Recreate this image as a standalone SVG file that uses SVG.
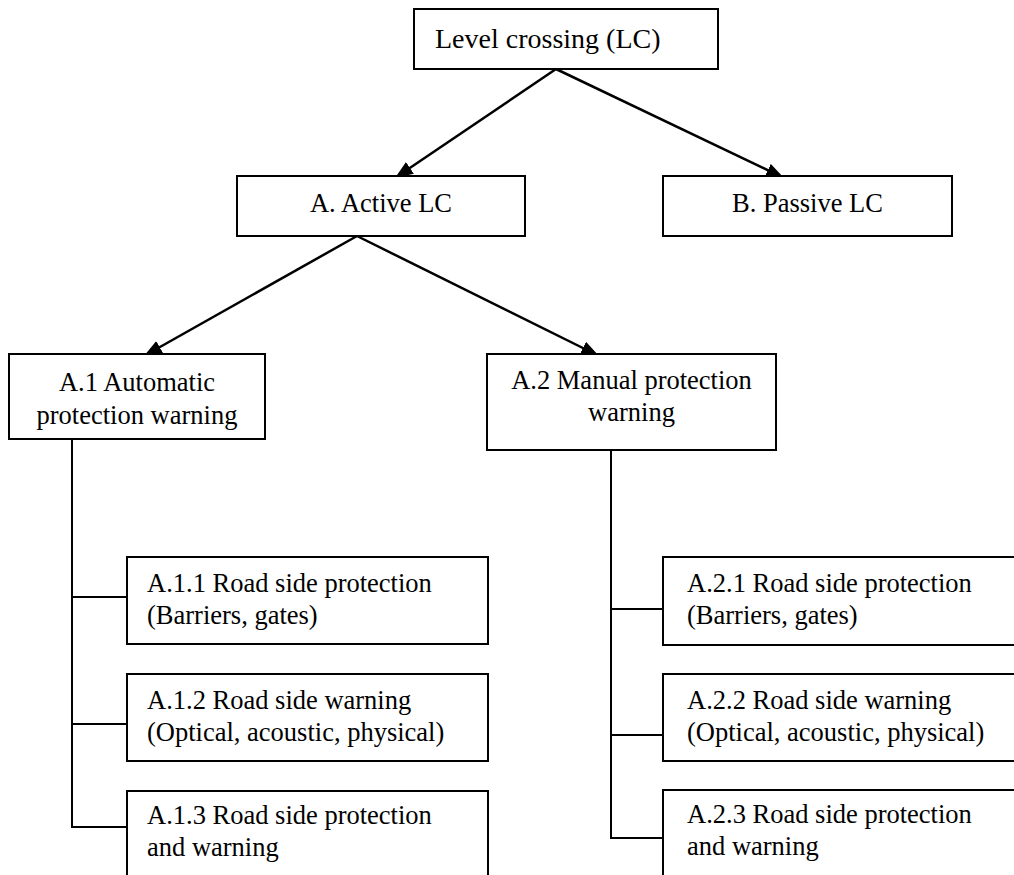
<svg xmlns="http://www.w3.org/2000/svg" width="1014" height="875" viewBox="0 0 1014 875">
  <style>
    .box { fill: #ffffff; stroke: #000000; stroke-width: 2; }
    .lbl { font-family: "Liberation Serif", "Times New Roman", serif; font-size: 26.5px; fill: #000000; }
    .top { font-size: 28px; }
    .mid { text-anchor: middle; }
    .arrow { fill: none; stroke: #000000; stroke-width: 2.5; marker-end: url(#head); }
    .tree { fill: none; stroke: #000000; stroke-width: 2; }
  </style>
  <defs>
    <marker id="head" markerUnits="userSpaceOnUse" markerWidth="20" markerHeight="16" refX="18" refY="7" orient="auto">
      <path d="M0,0 L18,7 L0,14 z" fill="#000000"/>
    </marker>
  </defs>
  <rect width="1014" height="875" fill="#ffffff"/>

  <!-- connectors: drawn first so the boxes sit on top of the arrow tips -->
  <g id="connectors">
    <line class="arrow" x1="556" y1="69" x2="395" y2="178"/>
    <line class="arrow" x1="556" y1="69" x2="784" y2="178"/>
    <line class="arrow" x1="357" y1="236" x2="144" y2="356"/>
    <line class="arrow" x1="357" y1="236" x2="599" y2="356"/>
    <!-- A.1 branch tree -->
    <polyline class="tree" points="72,439 72,827 127,827"/>
    <line class="tree" x1="72" y1="597" x2="127" y2="597"/>
    <line class="tree" x1="72" y1="724" x2="127" y2="724"/>
    <!-- A.2 branch tree -->
    <polyline class="tree" points="611,450 611,838 663,838"/>
    <line class="tree" x1="611" y1="609" x2="663" y2="609"/>
    <line class="tree" x1="611" y1="735" x2="663" y2="735"/>
  </g>

  <g id="lc">
    <rect class="box" x="414" y="9" width="304" height="60"/>
    <text class="lbl top" x="435" y="48">Level crossing (LC)</text>
  </g>

  <g id="active">
    <rect class="box" x="237" y="176" width="288" height="60"/>
    <text class="lbl mid" x="381" y="212">A. Active LC</text>
  </g>

  <g id="passive">
    <rect class="box" x="663" y="176" width="289" height="60"/>
    <text class="lbl mid" x="807.5" y="212">B. Passive LC</text>
  </g>

  <g id="a1">
    <rect class="box" x="9" y="354" width="256" height="85"/>
    <text class="lbl mid" x="137" y="391">A.1 Automatic</text>
    <text class="lbl mid" x="137" y="424">protection warning</text>
  </g>

  <g id="a2">
    <rect class="box" x="487" y="354" width="289" height="96"/>
    <text class="lbl mid" x="631.5" y="389">A.2 Manual protection</text>
    <text class="lbl mid" x="631.5" y="421">warning</text>
  </g>

  <g id="a11">
    <rect class="box" x="127" y="557" width="361" height="87"/>
    <text class="lbl" x="147" y="592">A.1.1 Road side protection</text>
    <text class="lbl" x="147" y="624">(Barriers, gates)</text>
  </g>

  <g id="a12">
    <rect class="box" x="127" y="674" width="361" height="87"/>
    <text class="lbl" x="147" y="709">A.1.2 Road side warning</text>
    <text class="lbl" x="147" y="741">(Optical, acoustic, physical)</text>
  </g>

  <g id="a13">
    <rect class="box" x="127" y="791" width="361" height="100"/>
    <text class="lbl" x="147" y="824">A.1.3 Road side protection</text>
    <text class="lbl" x="147" y="856">and warning</text>
  </g>

  <g id="a21">
    <rect class="box" x="663" y="557" width="360" height="88"/>
    <text class="lbl" x="687" y="592">A.2.1 Road side protection</text>
    <text class="lbl" x="687" y="624">(Barriers, gates)</text>
  </g>

  <g id="a22">
    <rect class="box" x="663" y="674" width="360" height="87"/>
    <text class="lbl" x="687" y="709">A.2.2 Road side warning</text>
    <text class="lbl" x="687" y="741">(Optical, acoustic, physical)</text>
  </g>

  <g id="a23">
    <rect class="box" x="663" y="790" width="360" height="100"/>
    <text class="lbl" x="687" y="823">A.2.3 Road side protection</text>
    <text class="lbl" x="687" y="855">and warning</text>
  </g>
</svg>
